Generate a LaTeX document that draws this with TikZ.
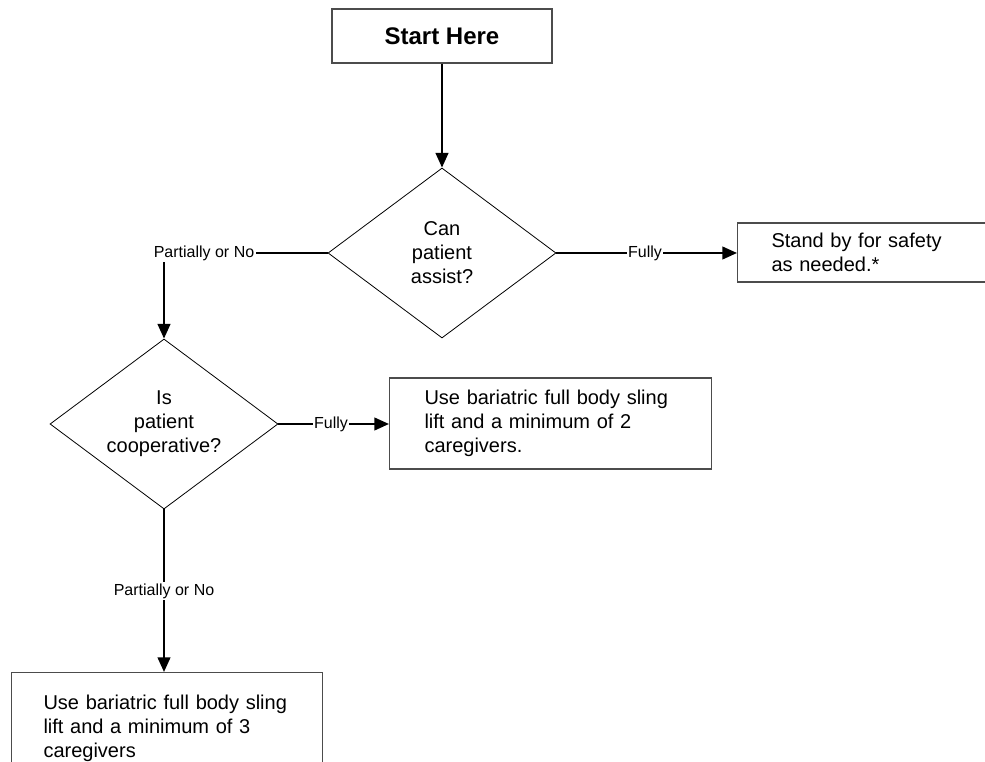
\documentclass[tikz,border=0pt]{standalone}
\usepackage{fontspec}
\setmainfont{Liberation Sans}
\usetikzlibrary{shapes.geometric,arrows.meta}
\begin{document}
\begin{tikzpicture}[x=0.75pt,y=-0.75pt,
  action/.style={draw=black!70,line width=0.8pt,align=left,font=\fontsize{15pt}{18pt}\selectfont},
  decision/.style={diamond,aspect=1.34,draw,line width=0.6pt,minimum width=171pt,minimum height=127.5pt,inner sep=0pt,align=center,font=\fontsize{15pt}{18pt}\selectfont},
  answer/.style={inner sep=1pt,font=\fontsize{12pt}{14pt}\selectfont},
  link/.style={line width=1.6pt},
  arrow/.style={line width=1.6pt,-{Triangle[length=11pt,width=9.5pt]}}]
\useasboundingbox (0,0) rectangle (985,762);
\clip (0,0) rectangle (985,762);
\node[action,align=center,minimum width=165pt,minimum height=40.5pt,font=\fontsize{18pt}{22pt}\selectfont\bfseries] at (442,36) (start) {Start Here};
\node[decision] at (442,253) (d1) {Can\\patient\\assist?};
\node[decision] at (164,424) (d2) {Is\\patient\\cooperative?};
\node[action,anchor=west,text width=150pt,inner xsep=25.5pt,minimum height=44.25pt] at (737,252.5) (s1) {Stand by for safety\\as needed.*};
\node[action,anchor=west,text width=189pt,inner xsep=26.25pt,minimum height=68.25pt] at (389,423.5) (s2) {Use bariatric full body sling\\lift and a minimum of 2\\caregivers.};
\node[action,anchor=north west,text width=185.25pt,inner xsep=24pt,inner ysep=17pt] at (11,672) (s3) {Use bariatric full body sling\\lift and a minimum of 3\\caregivers};
\node[answer] at (204,253) (pn1) {Partially or No};
\node[answer] at (645,253) (f1) {Fully};
\node[answer] at (331,424) (f2) {Fully};
\node[answer] at (164,591) (pn2) {Partially or No};
\draw[arrow] (start.south) -- (d1.north);
\draw[link] (d1.west) -- (pn1.east);
\draw[arrow] (pn1.south -| d2.north) -- (d2.north);
\draw[link] (d1.east) -- (f1.west);
\draw[arrow] (f1.east) -- (f1.east -| s1.west);
\draw[link] (d2.east) -- (f2.west);
\draw[arrow] (f2.east) -- (f2.east -| s2.west);
\draw[link] (d2.south) -- (pn2.north);
\draw[arrow] (pn2.south) -- (pn2.south |- s3.north);
\end{tikzpicture}
\end{document}
